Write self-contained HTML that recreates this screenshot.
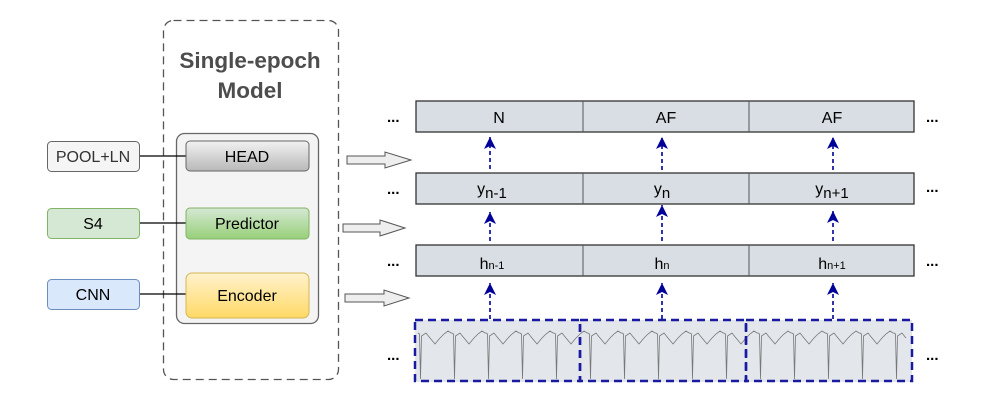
<!DOCTYPE html>
<html><head><meta charset="utf-8"><style>
html,body{margin:0;padding:0;background:#fff;}
svg{display:block;font-family:"Liberation Sans",sans-serif;}
</style></head><body>
<svg id="s" width="996" height="403" viewBox="0 0 996 403" xmlns="http://www.w3.org/2000/svg">
<defs>
<linearGradient id="gh" x1="0" y1="0" x2="0" y2="1"><stop offset="0" stop-color="#f2f2f2"/><stop offset="1" stop-color="#b8b8b8"/></linearGradient>
<linearGradient id="gp" x1="0" y1="0" x2="0" y2="1"><stop offset="0" stop-color="#d5e8d4"/><stop offset="1" stop-color="#97d077"/></linearGradient>
<linearGradient id="ge" x1="0" y1="0" x2="0" y2="1"><stop offset="0" stop-color="#fff2cc"/><stop offset="1" stop-color="#ffd966"/></linearGradient>
<marker id="ah" markerWidth="14" markerHeight="14" refX="12" refY="6" orient="auto" markerUnits="userSpaceOnUse"><path d="M0,0 L12,6 L0,12 L3,6 Z" fill="#000099"/></marker>
</defs>
<rect x="163.5" y="20.5" width="175" height="359" rx="10" fill="none" stroke="#555" stroke-width="1.3" stroke-dasharray="8,5"/>
<text x="250" y="68" text-anchor="middle" font-size="22.5" font-weight="bold" fill="#4d4d4d">Single-epoch</text>
<text x="250" y="98" text-anchor="middle" font-size="22.5" font-weight="bold" fill="#4d4d4d">Model</text>
<rect x="176.5" y="133.5" width="142" height="190" rx="8" fill="#f4f4f4" stroke="#666" stroke-width="1.3"/>
<line x1="140" y1="156" x2="186" y2="156" stroke="#000" stroke-width="1.2"/>
<line x1="140" y1="223" x2="186" y2="223" stroke="#000" stroke-width="1.2"/>
<line x1="140" y1="294" x2="186" y2="294" stroke="#000" stroke-width="1.2"/>
<rect x="186" y="141" width="123" height="30" rx="4" fill="url(#gh)" stroke="#666"/>
<text x="247" y="162" text-anchor="middle" font-size="16">HEAD</text>
<rect x="186" y="208" width="123" height="31" rx="4" fill="url(#gp)" stroke="#82b366"/>
<text x="247" y="229" text-anchor="middle" font-size="16">Predictor</text>
<rect x="186" y="273" width="123" height="45" rx="6" fill="url(#ge)" stroke="#d6b656"/>
<text x="247" y="301" text-anchor="middle" font-size="16">Encoder</text>
<rect x="47.5" y="141.5" width="92" height="30" rx="4" fill="#f5f5f5" stroke="#666"/>
<text x="93" y="162" text-anchor="middle" font-size="16" fill="#333">POOL+LN</text>
<rect x="47.5" y="208.5" width="92" height="30" rx="4" fill="#d5e8d4" stroke="#82b366"/>
<text x="93" y="229" text-anchor="middle" font-size="16">S4</text>
<rect x="47.5" y="279.5" width="92" height="30" rx="4" fill="#dae8fc" stroke="#6c8ebf"/>
<text x="93" y="300" text-anchor="middle" font-size="16">CNN</text>
<path d="M347,156 H385 V152 L411,160 L385,168 V164 H347 Z" fill="#eee" stroke="#555"/>
<path d="M343,224 H380 V220 L405,228 L380,236 V232 H343 Z" fill="#eee" stroke="#555"/>
<path d="M345,294 H384 V290 L409,298 L384,306 V302 H345 Z" fill="#eee" stroke="#555"/>
<g stroke="#333" stroke-width="1.3" fill="#d9dee4">
<rect x="416" y="101" width="498" height="31"/>
<rect x="416" y="173" width="498" height="31"/>
<rect x="416" y="245" width="498" height="31"/>
</g>
<g stroke="#555" stroke-width="1">
<line x1="583" y1="101" x2="583" y2="132"/><line x1="749" y1="101" x2="749" y2="132"/>
<line x1="583" y1="173" x2="583" y2="204"/><line x1="749" y1="173" x2="749" y2="204"/>
<line x1="583" y1="245" x2="583" y2="276"/><line x1="749" y1="245" x2="749" y2="276"/>
</g>
<g font-size="16" text-anchor="middle">
<text x="499" y="123">N</text><text x="666" y="123">AF</text><text x="832" y="123">AF</text>
<text x="492" y="194">y<tspan font-size="15" dy="4">n-1</tspan></text>
<text x="662" y="194">y<tspan font-size="15" dy="4">n</tspan></text>
<text x="832" y="194">y<tspan font-size="15" dy="4">n+1</tspan></text>
<text x="492" y="269">h<tspan font-size="11">n-1</tspan></text>
<text x="662" y="269">h<tspan font-size="11">n</tspan></text>
<text x="832" y="269">h<tspan font-size="11">n+1</tspan></text>
</g>
<g font-size="15" font-weight="bold" fill="#000">
<text x="387" y="122">...</text><text x="387" y="194">...</text><text x="387" y="266">...</text><text x="387" y="360">...</text>
<text x="926" y="122">...</text><text x="926" y="192">...</text><text x="926" y="266">...</text><text x="926" y="360">...</text>
</g>
<rect x="415" y="320" width="497" height="62" fill="#e3e7ec"/>
<polyline id="ecg" fill="none" stroke="#777" stroke-width="0.8" points=""/>
<g fill="none" stroke="#1a1aa0" stroke-width="2.5" stroke-dasharray="8,5">
<rect x="415" y="320" width="165" height="61"/>
<rect x="580" y="320" width="166" height="61"/>
<rect x="746" y="320" width="166" height="61"/>
</g>
<g stroke="#000099" stroke-width="1.6" stroke-dasharray="4,3" marker-end="url(#ah)">
<line x1="490" y1="169" x2="490" y2="137"/><line x1="662" y1="170" x2="662" y2="137"/><line x1="833" y1="170" x2="833" y2="137"/>
<line x1="490" y1="241" x2="490" y2="212"/><line x1="662" y1="241" x2="662" y2="205"/><line x1="833" y1="241" x2="833" y2="211"/>
<line x1="490" y1="319" x2="490" y2="283"/><line x1="662" y1="319" x2="662" y2="283"/><line x1="833" y1="319" x2="833" y2="283"/>
</g>
</svg>
<script>
var p=[],x=418;
while(x<910){
 var b=x;
 p.push([b,333],[b+1.5,334],[b+2.5,379],[b+3.5,336],[b+8,333],[b+12,338],[b+17,344],[b+22,338],[b+26,334],[b+30,331],[b+33,333]);
 x+=34;
}
document.getElementById('ecg').setAttribute('points',p.filter(function(q){return q[0]<910}).map(function(q){return q.join(',')}).join(' '));
</script>
</body></html>
